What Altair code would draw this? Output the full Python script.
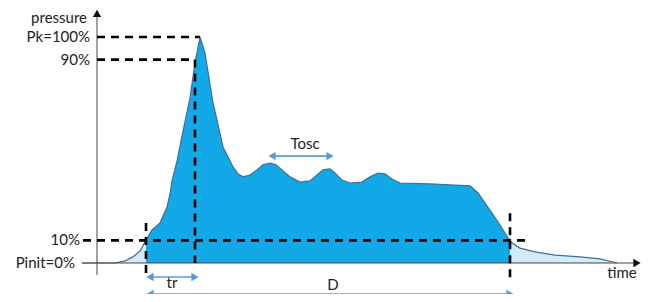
import altair as alt
import pandas as pd

# pressure curve (time in arbitrary units, pressure in % of peak)
time = [-15, 0, 18, 28, 36, 43, 49, 55, 63, 70, 73, 75, 80, 86, 93, 98, 103,
        108, 116, 120, 126, 131, 136, 141, 146, 153, 160, 166, 173, 179, 185,
        193, 203, 213, 220, 226, 233, 239, 245, 253, 265, 273, 281, 288, 295,
        303, 333, 373, 381, 388, 395, 403, 411, 413, 415, 423, 438, 458, 483,
        503, 520]
pressure = [0, 0, 0, 0.9, 2.7, 5.3, 10.2, 14.6, 17.7, 24.8, 30.5, 36.3, 45.1,
            58.4, 73.0, 88.5, 100, 92.9, 70.8, 63.3, 51.3, 47.0, 42.5, 39.4,
            38.1, 38.9, 41.2, 43.4, 44.2, 43.4, 41.2, 38.1, 35.8, 36.3, 38.9,
            41.2, 41.6, 39.4, 36.7, 35.4, 35.8, 38.1, 39.8, 39.4, 37.2, 35.4,
            35.0, 34.1, 31.0, 26.5, 22.1, 16.8, 11.1, 10.2, 8.8, 6.6, 4.9, 3.5,
            2.7, 1.8, 0]

t_10 = 49      # time at 10 %
t_90 = 98      # time at 90 %
t_pk = 103     # time at peak
t_end = 413    # time back at 10 %

# dashed guide lines: x, x2, y, y2
guide_x = [0, 0, t_90, -14, t_10, t_end]
guide_x2 = [t_pk, t_90, t_90, 433, t_10, t_end]
guide_y = [100, 90, 90, 10, 17.7, 22]
guide_y2 = [100, 90, 0, 10, -5.3, -8.4]

# level labels
level_text = ["pressure", "Pk=100%", "90%", "10%", "Pinit=0%"]
level_t = [-10, -7, -7, -17, -22]
level_p = [108.5, 100, 90, 10, 0]

# double arrows (blue)
arrow_name = ["tr", "D", "Tosc"]
arrow_t1 = [53, 53, 175]
arrow_t2 = [98, 413, 233]
arrow_p = [-6.2, -13.7, 47.3]
arrow_label_t = [75, 236, 208]
arrow_label_p = [-8.8, -9.8, 52.6]

X = alt.Scale(domain=[-89, 547], nice=False, zero=False)
Y = alt.Scale(domain=[-13.72, 112.83], nice=False, zero=False)

curve = pd.DataFrame({"t": time, "p": pressure})
main = curve[(curve.t >= t_10) & (curve.t <= t_end)]
left = curve[curve.t <= t_10]
right = curve[curve.t >= t_end]

def area(df, color):
    return alt.Chart(df).mark_area(color=color, opacity=1).encode(
        x=alt.X("t:Q", scale=X, axis=None),
        y=alt.Y("p:Q", scale=Y, axis=None),
        y2=alt.datum(0),
    )

layers = []
layers.append(area(left, "#d3ecf9"))
layers.append(area(right, "#d3ecf9"))
layers.append(area(main, "#13a8e8"))
layers.append(alt.Chart(curve).mark_line(color="#3f6e98", strokeWidth=1.2).encode(
    x=alt.X("t:Q", scale=X), y=alt.Y("p:Q", scale=Y)))

# axes
axes = pd.DataFrame({"x": [0, -15], "x2": [0, 540], "y": [-5.3, 0], "y2": [110.5, 0]})
layers.append(alt.Chart(axes).mark_rule(color="#444", strokeWidth=1).encode(
    x=alt.X("x:Q", scale=X), x2="x2:Q", y=alt.Y("y:Q", scale=Y), y2="y2:Q"))
heads = pd.DataFrame({"x": [0, 540], "y": [110.5, 0], "s": ["triangle-up", "triangle-right"]})
layers.append(alt.Chart(heads).mark_point(filled=True, color="#111", opacity=1, size=70).encode(
    x=alt.X("x:Q", scale=X), y=alt.Y("y:Q", scale=Y),
    shape=alt.Shape("s:N", scale=None, legend=None)))

# dashed guides
g = pd.DataFrame({"x": guide_x, "x2": guide_x2, "y": guide_y, "y2": guide_y2})
layers.append(alt.Chart(g).mark_rule(color="#000", strokeWidth=2.6, strokeDash=[8, 6]).encode(
    x=alt.X("x:Q", scale=X), x2="x2:Q", y=alt.Y("y:Q", scale=Y), y2="y2:Q"))

# level labels
lv = pd.DataFrame({"text": level_text, "t": level_t, "p": level_p})
layers.append(alt.Chart(lv).mark_text(align="right", baseline="middle", font="Lato",
                                       fontSize=15, color="#222").encode(
    x=alt.X("t:Q", scale=X), y=alt.Y("p:Q", scale=Y), text="text:N"))

# time label
tl = pd.DataFrame({"text": ["time"], "t": [525], "p": [-4.6]})
layers.append(alt.Chart(tl).mark_text(align="center", baseline="middle", font="Lato",
                                       fontSize=15, color="#222").encode(
    x=alt.X("t:Q", scale=X), y=alt.Y("p:Q", scale=Y), text="text:N"))

# blue double arrows
ar = pd.DataFrame({"name": arrow_name, "t1": arrow_t1, "t2": arrow_t2, "p": arrow_p})
layers.append(alt.Chart(ar).mark_rule(color="#5b9bd5", strokeWidth=1.6).encode(
    x=alt.X("t1:Q", scale=X), x2="t2:Q", y=alt.Y("p:Q", scale=Y)))
ah = pd.DataFrame({
    "t": arrow_t1 + arrow_t2,
    "p": arrow_p + arrow_p,
    "s": ["triangle-left"] * 3 + ["triangle-right"] * 3,
})
layers.append(alt.Chart(ah).mark_point(filled=True, color="#5b9bd5", opacity=1, size=70).encode(
    x=alt.X("t:Q", scale=X), y=alt.Y("p:Q", scale=Y),
    shape=alt.Shape("s:N", scale=None, legend=None)))
al = pd.DataFrame({"text": arrow_name, "t": arrow_label_t, "p": arrow_label_p})
layers.append(alt.Chart(al).mark_text(align="center", baseline="middle", font="Lato",
                                       fontSize=15, color="#222").encode(
    x=alt.X("t:Q", scale=X), y=alt.Y("p:Q", scale=Y), text="text:N"))

chart = alt.layer(*layers).properties(
    width=636, height=286, padding=0, autosize=alt.AutoSizeParams(type="none"),
    background="white",
).configure_view(stroke=None)

chart.save("out.html", embed_options={"renderer": "svg", "actions": False})
